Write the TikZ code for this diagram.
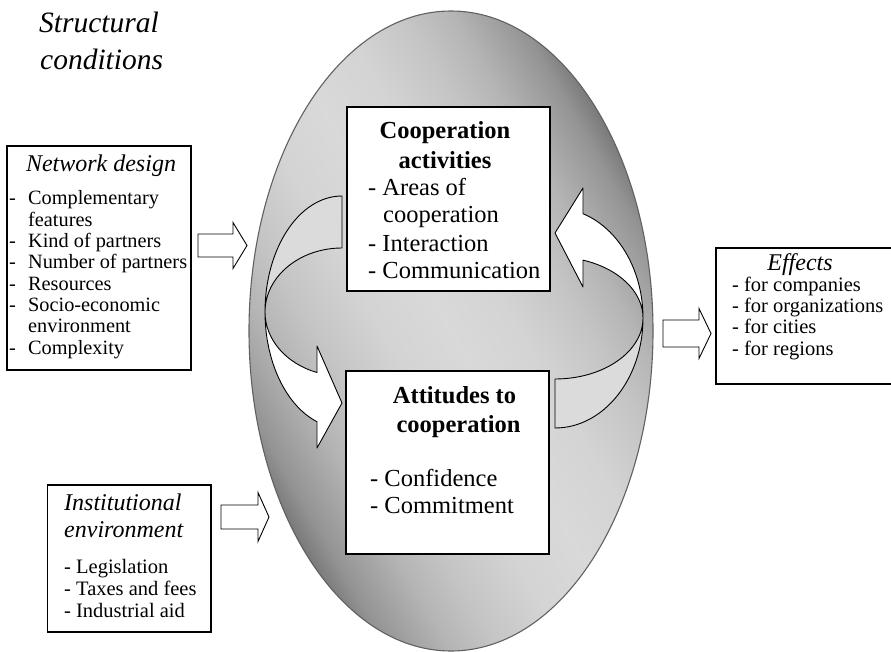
\documentclass[tikz,border=0pt]{standalone}
\usepackage{fontspec}
\setmainfont{Liberation Serif}

% greys of the oval's diagonal gradient
\definecolor{ov0}{gray}{0.85}
\definecolor{ov1}{gray}{0.83}
\definecolor{ov2}{gray}{0.77}
\definecolor{ov3}{gray}{0.71}
\definecolor{ov4}{gray}{0.64}
\definecolor{ov5}{gray}{0.58}
\definecolor{ov6}{gray}{0.47}
\definecolor{backgray}{gray}{0.86}
\definecolor{ovline}{gray}{0.38}

\pgfdeclareverticalshading{ovalgrad}{100bp}{%
  color(0bp)=(ov6); color(34.21bp)=(ov6); color(35.86bp)=(ov5);
  color(37.5bp)=(ov4); color(39.47bp)=(ov3); color(42.11bp)=(ov2);
  color(46.05bp)=(ov1); color(50bp)=(ov0); color(53.95bp)=(ov1);
  color(57.89bp)=(ov2); color(60.53bp)=(ov3); color(62.5bp)=(ov4);
  color(64.14bp)=(ov5); color(65.79bp)=(ov6); color(100bp)=(ov6)}

\begin{document}
\begin{tikzpicture}[x=1pt, y=-1pt,
  box/.style={rectangle, draw=black, line width=1.1pt, fill=white, inner sep=0pt},
  lst/.style={inner sep=0pt, anchor=base west, font=\fontsize{20.5}{24}\selectfont},
  netlst/.style={lst, font=\fontsize{20.3}{24}\selectfont},
  biglst/.style={inner sep=0pt, anchor=base west, font=\fontsize{24.5}{28}\selectfont},
  bld/.style={inner sep=0pt, anchor=base, font=\fontsize{24.5}{28}\selectfont\bfseries},
  ttl/.style={inner sep=0pt, font=\fontsize{24}{28}\selectfont\itshape},
  head/.style={inner sep=0pt, anchor=base west, font=\fontsize{29.5}{34}\selectfont\itshape},
  frontface/.style={draw=black, line width=0.9pt, fill=white, line join=round},
  backface/.style={draw=black, line width=0.9pt, fill=backgray, line join=round},
  fatline/.style={draw=black, line width=0.9pt, fill=white, line join=miter},
  pics/fatarrow/.style args={#1/#2/#3/#4}{code={
    \path[fatline] (0,-#3) -- (#1,-#3) -- (#1,-#4) -- (#1+#2,0)
      -- (#1,#4) -- (#1,#3) -- (0,#3) -- cycle;
  }}
]
\useasboundingbox (0,0) rectangle (891,652);

% the oval holding the two core fields
\coordinate (oc) at (451,331);
\begin{scope}
  \clip (oc) ellipse [x radius=202, y radius=320];
  \shade[shading=ovalgrad, shading angle=-60] (71,-49) rectangle (831,711);
\end{scope}
\draw[ovline, line width=1.1pt] (oc) ellipse [x radius=202, y radius=320];

% left curved arrow: from the activities down to the attitudes
\path[backface] (342,196) arc[start angle=270, end angle=180, x radius=77, y radius=116]
  arc[start angle=180, end angle=270, x radius=77, y radius=64] -- cycle;
\path[frontface] (265,312) arc[start angle=180, end angle=108.95, x radius=77, y radius=116]
  -- (317,448) -- (342,403) -- (317,346) -- (317,372.5)
  arc[start angle=108.95, end angle=180, x radius=77, y radius=64] -- cycle;

% right curved arrow: from the attitudes back up to the activities
\path[frontface] (583,213.7) arc[start angle=-71.45, end angle=0, x radius=88, y radius=110]
  arc[start angle=0, end angle=-71.45, x radius=88, y radius=61]
  -- (583,287) -- (555,233) -- (583,188) -- cycle;
\path[backface] (643,318) arc[start angle=0, end angle=90, x radius=88, y radius=110]
  -- (555,379) arc[start angle=90, end angle=0, x radius=88, y radius=61] -- cycle;

% boxes (the effects box runs on past the right margin)
\node[box, minimum width=184, minimum height=224] (net) at (99,258) {};
\node[box, minimum width=203, minimum height=184] (coop) at (448.5,199) {};
\node[box, minimum width=203, minimum height=183] (att) at (447.5,462.5) {};
\node[box, minimum width=163.5, minimum height=147] (inst) at (129.25,558.5) {};
\node[box, minimum width=204, minimum height=136] (eff) at (818,316) {};

% block arrows into and out of the oval
\coordinate (netout) at (198,245.5);
\coordinate (instout) at (221,517);
\coordinate (ovalout) at (663,333.5);
\pic at (netout) {fatarrow=35/14/11.5/23};
\pic at (instout) {fatarrow=37/11/12/24.5};
\pic at (ovalout) {fatarrow=36/12/13.5/25};

% heading
\node[head] (st1) at (39,33) {Structural};
\node[head] (st2) at (40,70) {conditions};

% network design
\node[ttl, anchor=base] (nett) at (101,172) {Network design};
\node[netlst] (n1) at (9,205) {\makebox[19pt][l]{-}Complementary};
\node[netlst] (n2) at (28,226.3) {features};
\node[netlst] (n3) at (9,247.6) {\makebox[19pt][l]{-}Kind of partners};
\node[netlst] (n4) at (9,268.9) {\makebox[19pt][l]{-}Number of partners};
\node[netlst] (n5) at (9,290.2) {\makebox[19pt][l]{-}Resources};
\node[netlst] (n6) at (9,311.5) {\makebox[19pt][l]{-}Socio-economic};
\node[netlst] (n7) at (28,332.8) {environment};
\node[netlst] (n8) at (9,354.1) {\makebox[19pt][l]{-}Complexity};

% cooperation activities
\node[bld] (ct1) at (445,139) {Cooperation};
\node[bld] (ct2) at (445,169) {activities};
\node[biglst] (c1) at (368,196) {- Areas of};
\node[biglst] (c2) at (383,223) {cooperation};
\node[biglst] (c3) at (368,252) {- Interaction};
\node[biglst] (c4) at (368,279) {- Communication};

% attitudes to cooperation
\node[bld] (at1) at (454.5,403) {Attitudes to};
\node[bld] (at2) at (458.5,432) {cooperation};
\node[biglst] (a1) at (370,486) {- Confidence};
\node[biglst] (a2) at (370,513) {- Commitment};

% institutional environment
\node[ttl, anchor=base west] (it1) at (64,510) {Institutional};
\node[ttl, anchor=base west] (it2) at (64,537) {environment};
\node[lst] (i1) at (64,573) {- Legislation};
\node[lst] (i2) at (64,595) {- Taxes and fees};
\node[lst] (i3) at (64,617) {- Industrial aid};

% effects
\node[ttl, anchor=base] (et) at (800,270) {Effects};
\node[lst] (e1) at (732,291) {- for companies};
\node[lst] (e2) at (732,312) {- for organizations};
\node[lst] (e3) at (732,333.5) {- for cities};
\node[lst] (e4) at (732,355) {- for regions};
\end{tikzpicture}
\end{document}
